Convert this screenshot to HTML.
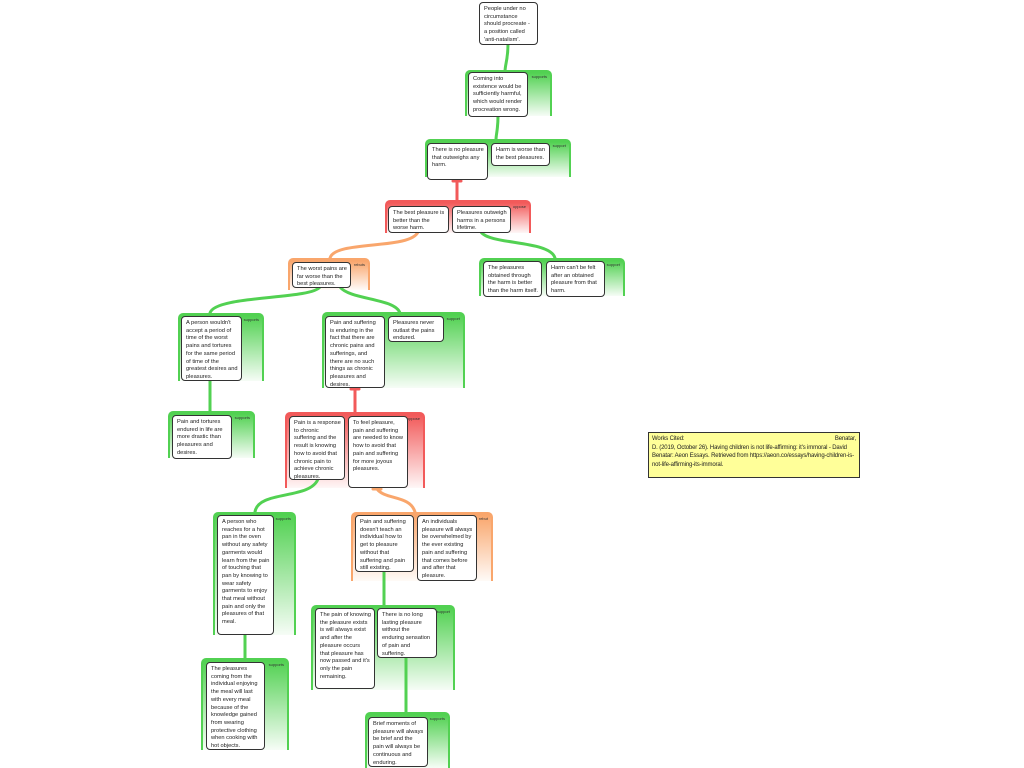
<!DOCTYPE html>
<html><head><meta charset="utf-8"><style>
body{margin:0;width:1024px;height:768px;background:#fff;position:relative;overflow:hidden;font-family:"Liberation Sans",sans-serif}
.g{position:absolute;border-radius:5px 5px 0 0;border-top:3px solid;border-left:2px solid;border-right:2px solid;border-bottom:none;box-sizing:border-box}
.gg{border-color:#52d152;background:linear-gradient(#52d152,rgba(82,209,82,0.05))}
.gr{border-color:#f25a5a;background:linear-gradient(#f25a5a,rgba(242,90,90,0.05))}
.go{border-color:#f9a66c;background:linear-gradient(#f9a66c,rgba(249,166,108,0.05))}
.lb{position:absolute;right:3px;top:1px;font-size:4px;color:#333}
.n{position:absolute;background:#fff;border:1.5px solid #333;border-radius:4px;box-sizing:border-box;padding:3px 3px 2px 4px;font-size:5.7px;line-height:7.7px;color:#222;overflow:hidden}
svg{position:absolute;left:0;top:0}
.note{position:absolute;left:648px;top:432px;width:212px;height:46px;background:#ffff99;border:1px solid #333;box-sizing:border-box;padding:2px 3px;font-size:6px;line-height:8.5px;color:#222;letter-spacing:-0.15px}
</style></head><body>
<div class="g gg" style="left:465px;top:70px;width:87px;height:46px"><span class="lb">supports</span></div>
<div class="g gg" style="left:425px;top:139px;width:146px;height:38px"><span class="lb">support</span></div>
<div class="g gr" style="left:385px;top:200px;width:146px;height:33px"><span class="lb">oppose</span></div>
<div class="g go" style="left:288px;top:258px;width:82px;height:32px"><span class="lb">rebuts</span></div>
<div class="g gg" style="left:479px;top:258px;width:146px;height:38px"><span class="lb">support</span></div>
<div class="g gg" style="left:178px;top:313px;width:86px;height:68px"><span class="lb">supports</span></div>
<div class="g gg" style="left:322px;top:312px;width:143px;height:76px"><span class="lb">support</span></div>
<div class="g gg" style="left:168px;top:411px;width:87px;height:47px"><span class="lb">supports</span></div>
<div class="g gr" style="left:285px;top:412px;width:140px;height:76px"><span class="lb">oppose</span></div>
<div class="g gg" style="left:213px;top:512px;width:83px;height:123px"><span class="lb">supports</span></div>
<div class="g go" style="left:351px;top:512px;width:142px;height:69px"><span class="lb">rebut</span></div>
<div class="g gg" style="left:201px;top:658px;width:88px;height:92px"><span class="lb">supports</span></div>
<div class="g gg" style="left:311px;top:605px;width:144px;height:85px"><span class="lb">support</span></div>
<div class="g gg" style="left:365px;top:712px;width:85px;height:56px"><span class="lb">supports</span></div>
<svg width="1024" height="768" fill="none" stroke-width="3" stroke-linecap="round">
<g stroke="#52d152">
<path d="M508 44 C508 60,505 64,505 72"/><path d="M498 116 C498 130,496 134,496 140"/>
<path d="M481 232 C490 245,550 240,555 258"/>
<path d="M320 287 C310 300,215 295,210 313"/><path d="M340 287 C350 300,395 298,400 313"/>
<path d="M210 380 L210 411"/><path d="M318 479 C310 500,258 490,255 512"/>
<path d="M384 571 L384 605"/><path d="M245 634 L245 658"/><path d="M406 657 L406 712"/>
</g>
<g stroke="#f25a5a"><path d="M457 181 L457 200"/><path d="M453 181 L461 181"/><path d="M355 389 L355 412"/><path d="M351 389 L359 389"/></g>
<g stroke="#f9a66c"><path d="M418 232 C410 250,335 240,330 258"/><path d="M377 489 C385 500,410 495,415 512"/><path d="M373 489 L381 489"/></g>
</svg>
<div class="n" style="left:479px;top:2px;width:59px;height:43px">People under no circumstance should procreate - a position called 'anti-natalism'.</div>
<div class="n" style="left:468px;top:72px;width:60px;height:45px">Coming into existence would be sufficiently harmful, which would render procreation wrong.</div>
<div class="n" style="left:427px;top:143px;width:61px;height:37px">There is no pleasure that outweighs any harm.</div>
<div class="n" style="left:491px;top:143px;width:59px;height:23px">Harm is worse than the best pleasures.</div>
<div class="n" style="left:388px;top:206px;width:61px;height:27px">The best pleasure is better than the worse harm.</div>
<div class="n" style="left:452px;top:206px;width:59px;height:27px">Pleasures outweigh harms in a persons lifetime.</div>
<div class="n" style="left:292px;top:262px;width:59px;height:26px">The worst pains are far worse than the best pleasures.</div>
<div class="n" style="left:483px;top:261px;width:59px;height:36px">The pleasures obtained through the harm is better than the harm itself.</div>
<div class="n" style="left:546px;top:261px;width:59px;height:36px">Harm can't be felt after an obtained pleasure from that harm.</div>
<div class="n" style="left:181px;top:316px;width:61px;height:65px">A person wouldn't accept a period of time of the worst pains and tortures for the same period of time of the greatest desires and pleasures.</div>
<div class="n" style="left:325px;top:316px;width:60px;height:72px">Pain and suffering is enduring in the fact that there are chronic pains and sufferings, and there are no such things as chronic pleasures and desires.</div>
<div class="n" style="left:388px;top:316px;width:56px;height:26px">Pleasures never outlast the pains endured.</div>
<div class="n" style="left:172px;top:415px;width:60px;height:44px">Pain and tortures endured in life are more drastic than pleasures and desires.</div>
<div class="n" style="left:289px;top:416px;width:56px;height:64px">Pain is a response to chronic suffering and the result is knowing how to avoid that chronic pain to achieve chronic pleasures.</div>
<div class="n" style="left:348px;top:416px;width:60px;height:72px">To feel pleasure, pain and suffering are needed to know how to avoid that pain and suffering for more joyous pleasures.</div>
<div class="n" style="left:217px;top:515px;width:57px;height:120px">A person who reaches for a hot pan in the oven without any safety garments would learn from the pain of touching that pan by knowing to wear safety garments to enjoy that meal without pain and only the pleasures of that meal.</div>
<div class="n" style="left:355px;top:515px;width:59px;height:57px">Pain and suffering doesn't teach an individual how to get to pleasure without that suffering and pain still existing.</div>
<div class="n" style="left:417px;top:515px;width:60px;height:66px">An individuals pleasure will always be overwhelmed by the ever existing pain and suffering that comes before and after that pleasure.</div>
<div class="n" style="left:206px;top:662px;width:59px;height:88px">The pleasures coming from the individual enjoying the meal will last with every meal because of the knowledge gained from wearing protective clothing when cooking with hot objects.</div>
<div class="n" style="left:315px;top:608px;width:60px;height:81px">The pain of knowing the pleasure exists is will always exist and after the pleasure occurs that pleasure has now passed and it's only the pain remaining.</div>
<div class="n" style="left:377px;top:608px;width:60px;height:50px">There is no long lasting pleasure without the enduring sensation of pain and suffering.</div>
<div class="n" style="left:368px;top:717px;width:60px;height:50px">Brief moments of pleasure will always be brief and the pain will always be continuous and enduring.</div>
<div class="note">Works Cited:<span style="float:right">Benatar,</span><br>D. (2019, October 26). Having children is not life-affirming: it's immoral - David Benatar: Aeon Essays. Retrieved from https://aeon.co/essays/having-children-is-not-life-affirming-its-immoral.</div>
</body></html>
